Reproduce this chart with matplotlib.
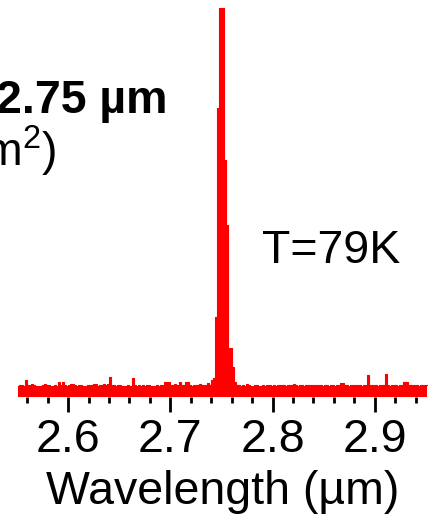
import numpy as np
import matplotlib
matplotlib.use("Agg")
import matplotlib.pyplot as plt
from matplotlib.ticker import MultipleLocator

plt.rcParams['font.family'] = ['Liberation Sans', 'DejaVu Sans']
plt.rcParams['mathtext.fontset'] = 'custom'
plt.rcParams['mathtext.rm'] = 'Liberation Sans'

# PL spectrum, 2 nm steps starting at 2.551 um, normalised to the 2.75 um peak
wl_start = 2.551
wl_step = 0.002
intensity = [
    0.028, 0.030, 0.031, 0.029, 0.044, 0.031, 0.030, 0.033, 0.031, 0.028,
    0.027, 0.029, 0.031, 0.033, 0.032, 0.030, 0.028, 0.029, 0.031, 0.027,
    0.039, 0.030, 0.039, 0.031, 0.029, 0.030, 0.034, 0.033, 0.031, 0.029,
    0.030, 0.031, 0.028, 0.029, 0.031, 0.030, 0.032, 0.034, 0.033, 0.029,
    0.030, 0.031, 0.033, 0.032, 0.034, 0.051, 0.032, 0.030, 0.029, 0.031,
    0.030, 0.028, 0.029, 0.027, 0.030, 0.029, 0.049, 0.030, 0.028, 0.031,
    0.029, 0.030, 0.028, 0.031, 0.030, 0.029, 0.027, 0.028, 0.031, 0.029,
    0.030, 0.031, 0.039, 0.039, 0.038, 0.030, 0.031, 0.033, 0.030, 0.039,
    0.031, 0.030, 0.039, 0.038, 0.031, 0.029, 0.030, 0.031, 0.032, 0.034,
    0.030, 0.031, 0.030, 0.036, 0.031, 0.044, 0.049, 0.206, 0.743, 1.000,
    1.000, 0.609, 0.442, 0.126, 0.126, 0.077, 0.039, 0.031, 0.030, 0.029,
    0.031, 0.029, 0.034, 0.030, 0.028, 0.029, 0.031, 0.030, 0.029, 0.028,
    0.030, 0.029, 0.031, 0.030, 0.028, 0.030, 0.029, 0.031, 0.030, 0.032,
    0.030, 0.029, 0.031, 0.030, 0.031, 0.034, 0.030, 0.029, 0.031, 0.030,
    0.029, 0.031, 0.032, 0.031, 0.030, 0.032, 0.031, 0.030, 0.031, 0.029,
    0.030, 0.031, 0.029, 0.030, 0.031, 0.029, 0.030, 0.032, 0.036, 0.035,
    0.031, 0.030, 0.029, 0.031, 0.030, 0.032, 0.031, 0.030, 0.029, 0.031,
    0.032, 0.057, 0.031, 0.030, 0.031, 0.032, 0.029, 0.030, 0.031, 0.030,
    0.059, 0.031, 0.029, 0.030, 0.031, 0.030, 0.029, 0.031, 0.032, 0.039,
    0.038, 0.031, 0.030, 0.032, 0.031, 0.030, 0.029, 0.031, 0.030, 0.031,
    0.030,
]
wavelength = wl_start + wl_step * np.arange(len(intensity))

peak_label = "2.75 µm"
power_tail = "m$^{2}$)"
temp_label = "T=79K"

FS = 33.5
W, H = 433, 514
fig = plt.figure(figsize=(W / 100, H / 100), dpi=100)
ax = fig.add_axes([17 / W, 117 / H, 411 / W, 397 / H])

ax.fill_between(wavelength, intensity, step='mid', color='red', lw=0)
ax.step(wavelength, intensity, where='mid', color='red', lw=0.8)

ax.set_xlim(2.55, 2.952)
ax.set_ylim(0, 1.0206)
for s in ax.spines.values():
    s.set_visible(False)
ax.set_yticks([])
ax.xaxis.set_major_locator(MultipleLocator(0.1))
ax.xaxis.set_minor_locator(MultipleLocator(0.02))
ax.tick_params(axis='x', which='major', direction='out', length=10.8, width=2,
               labelsize=FS, pad=4)
ax.tick_params(axis='x', which='minor', direction='out', length=4.3, width=2)
ax.set_xlabel("Wavelength (µm)", fontsize=FS, labelpad=6)

def px(x, y):
    return x / W, 1 - y / H

fig.text(*px(168, 113), peak_label, fontsize=FS, fontweight='bold',
         ha='right', va='baseline')
fig.text(*px(56, 166), power_tail, fontsize=FS, ha='right', va='baseline')
fig.text(*px(262, 263), temp_label, fontsize=FS, ha='left', va='baseline')

fig.savefig("out.png", dpi=100)
